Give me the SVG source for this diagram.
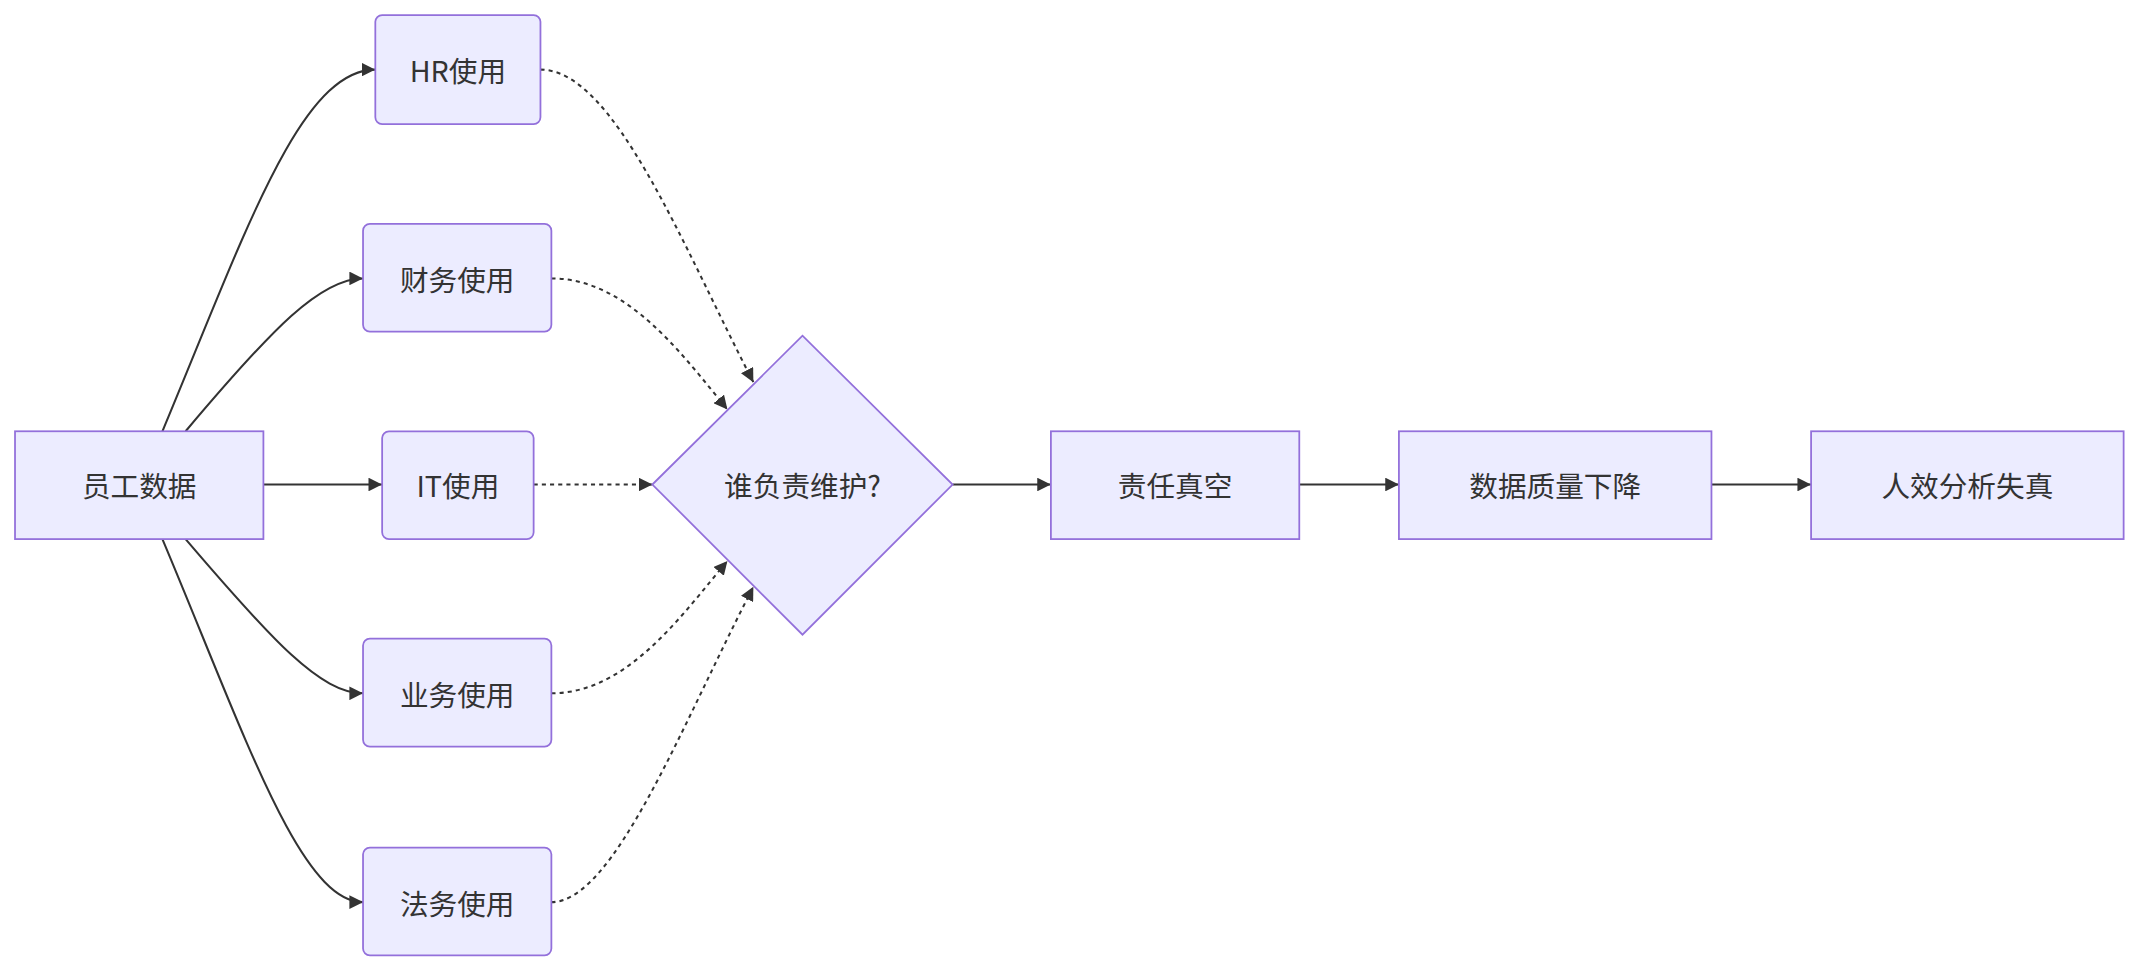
<svg xmlns="http://www.w3.org/2000/svg" width="2140" height="972" viewBox="0 0 2140 972">
<style>
.n{fill:#ECECFF;stroke:#9370DB;stroke-width:1.3}
.t{font-family:"Noto Sans CJK SC","Noto Sans",sans-serif;font-size:21px;fill:#333;text-anchor:middle;dominant-baseline:central}
.e{fill:none;stroke:#333;stroke-width:1.5;marker-end:url(#a)}
.d{stroke-dasharray:3 3}
</style>
<defs><marker id="a" viewBox="0 0 10 10" refX="10" refY="5" markerWidth="10" markerHeight="10" markerUnits="userSpaceOnUse" orient="auto"><path d="M0,0L10,5L0,10z" fill="#333"/></marker></defs>
<rect width="2140" height="972" fill="#fff"/>
<g transform="scale(1.3648)">
<g id="edges">
<path class="e" d="M119,316 C180,170 220,51 275,51"/>
<path class="e" d="M136,316 C200,240 235,204 266,204"/>
<path class="e" d="M193,355 L280,355"/>
<path class="e" d="M136,395 C200,470 235,508 266,508"/>
<path class="e" d="M119,395 C180,540 220,661 266,661"/>
<path class="e d" d="M396,51 C450,51 500,180 552,280"/>
<path class="e d" d="M404,204 C460,204 500,260 533,300"/>
<path class="e d" d="M391,355 L478,355"/>
<path class="e d" d="M404,508 C460,508 500,450 533,411"/>
<path class="e d" d="M404,661 C450,661 500,530 552,430"/>
<path class="e" d="M698,355 L770,355"/>
<path class="e" d="M952,355 L1025,355"/>
<path class="e" d="M1254,355 L1327,355"/>
</g>
<g id="n0"><rect class="n" x="11" y="316" width="182" height="79"/><text class="t" x="102" y="355">员工数据</text></g>
<g id="n1"><rect class="n" x="275" y="11" width="121" height="80" rx="5"/><text class="t" x="335.5" y="51">HR使用</text></g>
<g id="n2"><rect class="n" x="266" y="164" width="138" height="79" rx="5"/><text class="t" x="335" y="204">财务使用</text></g>
<g id="n3"><rect class="n" x="280" y="316" width="111" height="79" rx="5"/><text class="t" x="335.5" y="355">IT使用</text></g>
<g id="n4"><rect class="n" x="266" y="468" width="138" height="79" rx="5"/><text class="t" x="335" y="508">业务使用</text></g>
<g id="n5"><rect class="n" x="266" y="621" width="138" height="79" rx="5"/><text class="t" x="335" y="661">法务使用</text></g>
<g id="n6"><polygon class="n" points="478,355 588,246 698,355 588,465"/><text class="t" x="588" y="355">谁负责维护?</text></g>
<g id="n7"><rect class="n" x="770" y="316" width="182" height="79"/><text class="t" x="861" y="355">责任真空</text></g>
<g id="n8"><rect class="n" x="1025" y="316" width="229" height="79"/><text class="t" x="1139.5" y="355">数据质量下降</text></g>
<g id="n9"><rect class="n" x="1327" y="316" width="229" height="79"/><text class="t" x="1441.5" y="355">人效分析失真</text></g>
</g>
</svg>
